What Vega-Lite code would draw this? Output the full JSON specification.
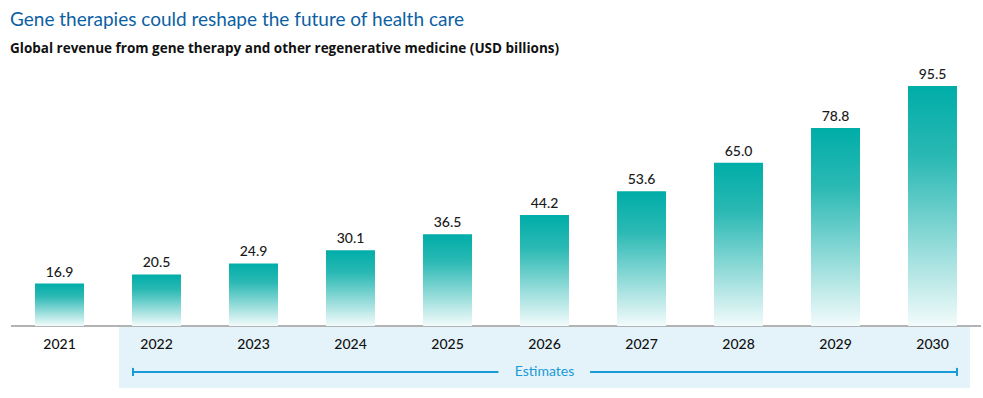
{
  "$schema": "https://vega.github.io/schema/vega-lite/v6.json",
  "width": 970,
  "height": 324,
  "autosize": {"type": "none"},
  "padding": {"left": 11, "top": 66, "right": 2, "bottom": 8},
  "title": {
    "text": "Gene therapies could reshape the future of health care",
    "subtitle": "Global revenue from gene therapy and other regenerative medicine (USD billions)",
    "anchor": "start",
    "font": "Lato",
    "fontSize": 19,
    "fontWeight": "normal",
    "color": "#0d5fa3",
    "subtitleFont": "Open Sans",
    "subtitleFontSize": 13.5,
    "subtitleFontWeight": "bold",
    "subtitleColor": "#111111",
    "subtitlePadding": 12,
    "offset": 11
  },
  "config": {"view": {"stroke": null}},
  "datasets": {
    "rev": [
      {"year": "2021", "value": 16.9},
      {"year": "2022", "value": 20.5},
      {"year": "2023", "value": 24.9},
      {"year": "2024", "value": 30.1},
      {"year": "2025", "value": 36.5},
      {"year": "2026", "value": 44.2},
      {"year": "2027", "value": 53.6},
      {"year": "2028", "value": 65.0},
      {"year": "2029", "value": 78.8},
      {"year": "2030", "value": 95.5}
    ],
    "est": [
      {"start": "2022", "mid": "2026", "end": "2030", "label": "Estimates"}
    ]
  },
  "layer": [
    {
      "data": {"name": "est"},
      "mark": {"type": "rect", "color": "#e4f3fa"},
      "encoding": {
        "x": {"field": "start", "type": "ordinal", "bandPosition": -0.265, "scale": {"paddingInner": 0.495, "paddingOuter": 0.2475}, "axis": null},
        "x2": {"field": "end", "bandPosition": 1.265},
        "y": {"datum": -0.4, "type": "quantitative", "scale": {"domain": [-25.5, 103.5], "nice": false, "zero": false}, "axis": null},
        "y2": {"datum": -24.7}
      }
    },
    {
      "data": {"name": "rev"},
      "mark": {"type": "rule", "color": "#b3b3b3", "strokeWidth": 2},
      "encoding": {
        "y": {"datum": 0, "type": "quantitative"}
      }
    },
    {
      "data": {"name": "rev"},
      "mark": {
        "type": "bar",
        "color": {
          "gradient": "linear",
          "x1": 0, "y1": 0, "x2": 0, "y2": 1,
          "stops": [
            {"offset": 0, "color": "#00ada8"},
            {"offset": 0.3, "color": "#2bb9b4"},
            {"offset": 1, "color": "#f2fbfb"}
          ]
        }
      },
      "encoding": {
        "x": {"field": "year", "type": "ordinal"},
        "y": {"field": "value", "type": "quantitative"}
      }
    },
    {
      "data": {"name": "rev"},
      "mark": {"type": "text", "dy": -11, "font": "Lato", "fontSize": 14, "fontWeight": 500, "color": "#1a1a1a"},
      "encoding": {
        "x": {"field": "year", "type": "ordinal"},
        "y": {"field": "value", "type": "quantitative"},
        "text": {"field": "value", "type": "quantitative", "format": ".1f"}
      }
    },
    {
      "data": {"name": "rev"},
      "mark": {"type": "text", "font": "Lato", "fontSize": 14, "fontWeight": 500, "color": "#111111"},
      "encoding": {
        "x": {"field": "year", "type": "ordinal"},
        "y": {"datum": -7.6, "type": "quantitative"},
        "text": {"field": "year"}
      }
    },
    {
      "data": {"name": "est"},
      "mark": {"type": "rule", "color": "#1a9ad6", "strokeWidth": 2},
      "encoding": {
        "x": {"field": "start", "type": "ordinal", "bandPosition": 0.02},
        "x2": {"field": "mid", "bandPosition": -0.44},
        "y": {"datum": -18.3, "type": "quantitative"}
      }
    },
    {
      "data": {"name": "est"},
      "mark": {"type": "rule", "color": "#1a9ad6", "strokeWidth": 2},
      "encoding": {
        "x": {"field": "mid", "type": "ordinal", "bandPosition": 1.43},
        "x2": {"field": "end", "bandPosition": 1.0},
        "y": {"datum": -18.3, "type": "quantitative"}
      }
    },
    {
      "data": {"name": "est"},
      "mark": {"type": "rule", "color": "#1a9ad6", "strokeWidth": 2},
      "encoding": {
        "x": {"field": "start", "type": "ordinal", "bandPosition": 0.02},
        "y": {"datum": -16.7, "type": "quantitative"},
        "y2": {"datum": -19.9}
      }
    },
    {
      "data": {"name": "est"},
      "mark": {"type": "rule", "color": "#1a9ad6", "strokeWidth": 2},
      "encoding": {
        "x": {"field": "end", "type": "ordinal", "bandPosition": 1.0},
        "y": {"datum": -16.7, "type": "quantitative"},
        "y2": {"datum": -19.9}
      }
    },
    {
      "data": {"name": "est"},
      "mark": {"type": "text", "font": "Lato", "fontSize": 14, "color": "#1a9ad6"},
      "encoding": {
        "x": {"field": "mid", "type": "ordinal"},
        "y": {"datum": -18.3, "type": "quantitative"},
        "text": {"field": "label"}
      }
    }
  ]
}
